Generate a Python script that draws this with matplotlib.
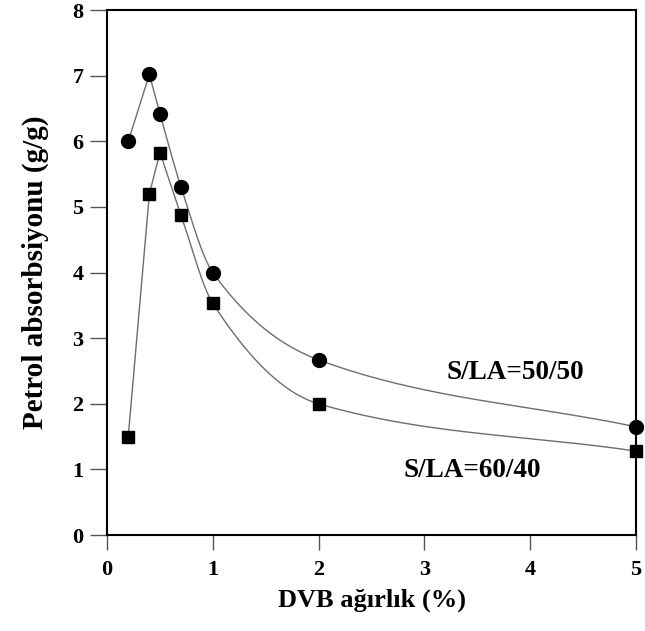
import numpy as np
import matplotlib
matplotlib.use("Agg")
import matplotlib.pyplot as plt

# DVB weight (%) and petrol absorption (g/g)
dvb = [0.2, 0.4, 0.5, 0.7, 1.0, 2.0, 5.0]
abs_50_50 = [6.0, 7.02, 6.42, 5.3, 4.0, 2.67, 1.65]
abs_60_40 = [1.5, 5.2, 5.83, 4.87, 3.53, 2.0, 1.28]
peak_50_50 = 1   # index where the smooth decay curve starts
peak_60_40 = 2
x_ticks = [0, 1, 2, 3, 4, 5]
y_ticks = [0, 1, 2, 3, 4, 5, 6, 7, 8]


def pchip(x, y, xs):
    # monotone cubic (Fritsch-Carlson) through the measured points
    x = np.asarray(x, float)
    y = np.asarray(y, float)
    h = np.diff(x)
    d = np.diff(y) / h
    m = np.zeros_like(y)
    for k in range(1, len(x) - 1):
        if d[k - 1] * d[k] > 0:
            w1 = 2 * h[k] + h[k - 1]
            w2 = h[k] + 2 * h[k - 1]
            m[k] = (w1 + w2) / (w1 / d[k - 1] + w2 / d[k])
    m[0] = d[0]
    m[-1] = d[-1]
    out = np.empty_like(xs)
    for i, xv in enumerate(xs):
        k = min(np.searchsorted(x, xv, side="right") - 1, len(x) - 2)
        t = (xv - x[k]) / h[k]
        h00 = 2 * t**3 - 3 * t**2 + 1
        h10 = t**3 - 2 * t**2 + t
        h01 = -2 * t**3 + 3 * t**2
        h11 = t**3 - t**2
        out[i] = h00 * y[k] + h10 * h[k] * m[k] + h01 * y[k + 1] + h11 * h[k] * m[k + 1]
    return out


def draw_series(ax, x, y, peak, marker, ms):
    x = np.asarray(x, float)
    y = np.asarray(y, float)
    ax.plot(x[:peak + 1], y[:peak + 1], color="#6e6e6e", lw=1.0, zorder=2)
    xs = np.linspace(x[peak], x[-1], 400)
    ax.plot(xs, pchip(x[peak:], y[peak:], xs), color="#6e6e6e", lw=1.0, zorder=2)
    ax.plot(x, y, ls="none", marker=marker, ms=ms, color="black", zorder=3, clip_on=False)


plt.rcParams["font.family"] = ["Liberation Serif", "DejaVu Serif"]
plt.rcParams["font.weight"] = "bold"

fig = plt.figure(figsize=(6.45, 6.31), dpi=100)
ax = fig.add_axes([0.166, 0.152, 0.820, 0.832])

draw_series(ax, dvb, abs_50_50, peak_50_50, "o", 10)
draw_series(ax, dvb, abs_60_40, peak_60_40, "s", 8.5)

ax.text(3.86, 2.47, "S/LA=50/50", ha="center", va="center", fontsize=19.5, fontweight="bold")
ax.text(3.45, 0.99, "S/LA=60/40", ha="center", va="center", fontsize=19.5, fontweight="bold")

ax.set_xlim(0, 5)
ax.set_ylim(0, 8)
ax.set_xticks(x_ticks)
ax.set_yticks(y_ticks)
ax.tick_params(axis="y", direction="out", length=12, width=1, pad=5, labelsize=16, color="#555555")
ax.tick_params(axis="x", direction="out", length=11, width=1, pad=7, labelsize=16, color="#555555")
for lab in ax.get_xticklabels() + ax.get_yticklabels():
    lab.set_fontweight("bold")
for s in ax.spines.values():
    s.set_linewidth(1.5)

ax.set_xlabel("DVB ağırlık (%)", fontsize=19, fontweight="bold", labelpad=6)
ax.set_ylabel("Petrol absorbsiyonu (g/g)", fontsize=21, fontweight="bold", labelpad=17)

fig.savefig("out.png", dpi=100)
